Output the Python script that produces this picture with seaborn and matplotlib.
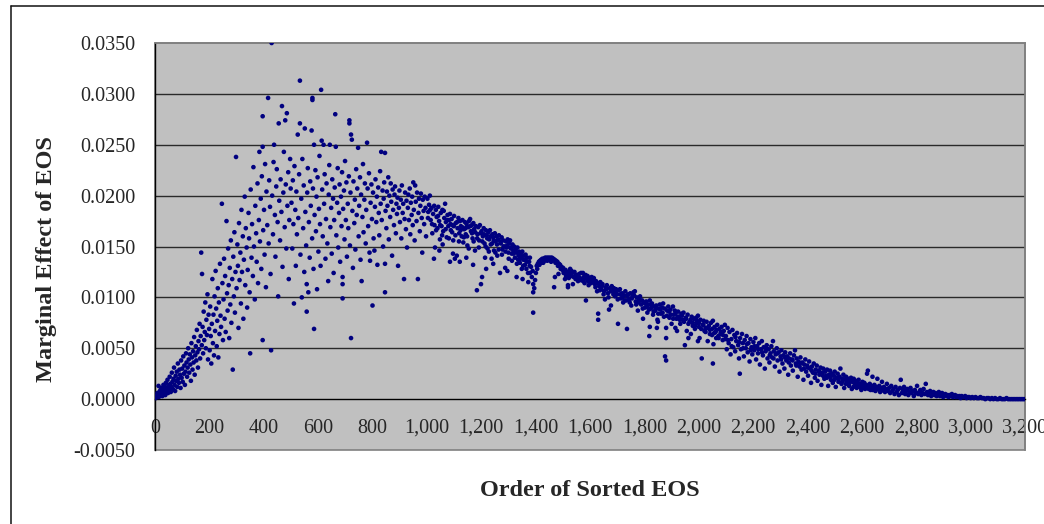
import numpy as np
import pandas as pd
import matplotlib
matplotlib.use("Agg")
import matplotlib.pyplot as plt
import matplotlib.ticker as mticker
from matplotlib.patches import Rectangle
from matplotlib.lines import Line2D
import seaborn as sns

# (rank in sorted EOS order, marginal effect of EOS)
rise_start = [
    (2, .0001), (5, .0003), (7, .0002), (9, .0006), (11, .0004), (13, .0013), (14, .0002), (16, .0007),
    (18, .0005), (20, .0009), (22, .0004), (24, .0011), (26, .0007), (27, .0003), (29, .0010), (31, .0014),
    (33, .0006), (35, .0009), (37, .0012), (38, .0004), (40, .0016), (42, .0008), (44, .0011), (46, .0019),
    (48, .0006), (50, .0013), (52, .0009), (54, .0022), (56, .0015), (58, .0007), (60, .0012), (62, .0026),
    (64, .0017), (66, .0010), (68, .0020), (70, .0031), (72, .0014), (74, .0008), (76, .0023), (78, .0018),
    (80, .0027), (82, .0012), (84, .0035), (86, .0020), (88, .0016), (90, .0029), (92, .0024), (94, .0011),
    (96, .0038), (98, .0021), (100, .0030), (102, .0017), (104, .0042), (106, .0025), (108, .0033), (110, .0014),
    (112, .0027), (114, .0045), (116, .0036), (118, .0022), (120, .0031), (122, .0050), (124, .0039), (126, .0026),
    (128, .0044), (130, .0034), (132, .0018), (134, .0055), (136, .0041), (138, .0029), (140, .0047), (142, .0036),
    (144, .0061), (146, .0024), (148, .0043), (150, .0052), (152, .0038), (154, .0068), (156, .0046), (158, .0031),
    (160, .0057), (162, .0049), (164, .0074), (166, .0040), (168, .0062), (170, .0144), (172, .0053), (173, .0123),
    (175, .0071), (177, .0045), (179, .0086), (181, .0058), (183, .0066), (185, .0095), (187, .0050), (189, .0078),
    (191, .0063), (193, .0103), (195, .0039), (197, .0083), (199, .0069),
]

rise_spread = [
    (201, .0048), (203, .0091), (205, .0062), (207, .0035), (209, .0074), (211, .0118), (213, .0055), (215, .0083),
    (217, .0043), (219, .0101), (221, .0067), (223, .0126), (225, .0089), (227, .0052), (229, .0077), (231, .0109),
    (233, .0041), (235, .0095), (237, .0064), (239, .0133), (241, .0082), (243, .0071), (246, .0192), (248, .0114),
    (250, .0058), (252, .0098), (254, .0138), (256, .0079), (258, .0121), (260, .0066), (263, .0175), (265, .0104),
    (267, .0087), (269, .0148), (271, .0112), (273, .0060), (275, .0129), (277, .0093), (279, .0156), (281, .0075),
    (284, .0118), (286, .0029), (288, .0140), (290, .0101), (292, .0164), (294, .0085), (296, .0125), (298, .0238),
    (300, .0109), (303, .0152), (305, .0131), (307, .0070), (309, .0173), (311, .0117), (314, .0144), (316, .0094),
    (318, .0186), (320, .0125), (323, .0160), (325, .0079), (327, .0137), (330, .0199), (332, .0112), (334, .0168),
    (337, .0149), (339, .0090), (341, .0127), (344, .0183), (346, .0158), (348, .0105), (350, .0045), (352, .0206),
    (355, .0139), (357, .0172), (360, .0121), (362, .0228), (364, .0150), (367, .0098), (369, .0190), (372, .0163),
    (374, .0135), (377, .0212), (379, .0114), (382, .0176), (384, .0243), (386, .0155), (389, .0197), (391, .0128),
    (393, .0219), (396, .0278), (396, .0248), (396, .0058), (398, .0166), (401, .0186), (403, .0142), (405, .0231),
    (408, .0110), (410, .0204), (413, .0171), (416, .0296), (418, .0153), (420, .0215), (423, .0189), (425, .0123),
    (427, .0048), (429, .0350), (431, .0200), (434, .0162), (436, .0233), (438, .0250), (441, .0181), (443, .0140),
    (446, .0209), (448, .0226), (451, .0174), (453, .0101), (455, .0271), (457, .0195), (460, .0156), (462, .0216),
    (465, .0184), (467, .0288), (469, .0130), (472, .0203), (474, .0243), (477, .0169), (479, .0274), (481, .0211),
    (483, .0148), (485, .0281), (487, .0190), (490, .0223), (492, .0118), (494, .0176), (497, .0236), (499, .0207),
]

peak_spread = [
    (502, .0193), (505, .0148), (507, .0215), (509, .0172), (511, .0094), (513, .0229), (516, .0186), (518, .0131),
    (520, .0204), (522, .0162), (525, .0260), (527, .0178), (530, .0221), (533, .0313), (533, .0271), (535, .0142),
    (538, .0197), (540, .0100), (542, .0236), (545, .0168), (547, .0210), (549, .0125), (551, .0266), (553, .0184),
    (556, .0151), (558, .0086), (558, .0113), (560, .0203), (562, .0227), (564, .0105), (566, .0174), (569, .0139),
    (571, .0214), (573, .0190), (576, .0264), (578, .0158), (579, .0294), (579, .0296), (581, .0207), (583, .0128),
    (585, .0250), (585, .0069), (587, .0181), (590, .0225), (592, .0165), (594, .0199), (596, .0108), (598, .0218),
    (601, .0145), (603, .0187), (605, .0239), (607, .0172), (609, .0131), (611, .0304), (613, .0254), (615, .0206),
    (617, .0160), (620, .0250), (622, .0192), (624, .0221), (627, .0138), (629, .0177), (631, .0212), (634, .0153),
    (637, .0116), (639, .0201), (641, .0230), (643, .0250), (645, .0169), (648, .0188), (650, .0143), (652, .0216),
    (655, .0197), (657, .0124), (659, .0176), (661, .0208), (663, .0280), (665, .0248), (667, .0161), (670, .0193),
    (672, .0227), (674, .0149), (677, .0183), (679, .0211), (681, .0135), (684, .0199), (686, .0170), (688, .0223),
    (690, .0120), (690, .0113), (690, .0099), (692, .0187), (695, .0205), (697, .0157), (699, .0234), (702, .0176),
    (704, .0213), (706, .0140), (709, .0192), (711, .0168), (713, .0219), (715, .0274), (715, .0271), (717, .0151),
    (719, .0203), (721, .0260), (721, .0060), (724, .0255), (726, .0185), (728, .0129), (730, .0214), (733, .0173),
    (735, .0196), (737, .0147), (740, .0226), (742, .0181), (744, .0207), (747, .0247), (749, .0160), (751, .0190),
    (754, .0218), (756, .0137), (758, .0201), (760, .0116), (763, .0179), (765, .0231), (767, .0164), (770, .0196),
    (772, .0212), (775, .0153), (777, .0186), (780, .0252), (782, .0207), (784, .0170), (787, .0222), (789, .0144),
    (791, .0136), (793, .0193), (796, .0211), (798, .0177), (800, .0092), (802, .0203), (804, .0158), (807, .0146),
    (809, .0189), (811, .0216), (814, .0174), (816, .0199), (818, .0132), (821, .0208), (823, .0183), (825, .0161),
    (828, .0224), (830, .0192), (832, .0243), (834, .0176), (837, .0205), (839, .0150), (841, .0197), (843, .0213),
    (846, .0242), (846, .0105), (846, .0133), (848, .0185), (851, .0168), (853, .0204), (855, .0190), (858, .0218),
    (860, .0157), (862, .0200), (865, .0179), (867, .0212), (869, .0194), (872, .0141), (874, .0206), (876, .0186),
    (879, .0171), (881, .0201), (883, .0209), (886, .0163), (888, .0192), (890, .0182), (892, .0198), (894, .0131),
    (897, .0188), (899, .0205), (901, .0174), (904, .0196), (906, .0158), (908, .0210), (911, .0183), (913, .0192),
    (916, .0118), (918, .0177), (920, .0203), (923, .0167), (925, .0195), (927, .0149), (930, .0188), (932, .0201),
    (934, .0176), (937, .0207), (939, .0162), (941, .0193), (944, .0181), (946, .0199), (948, .0171), (950, .0213),
    (952, .0186), (955, .0156), (957, .0210), (959, .0194), (962, .0175), (964, .0203), (967, .0118), (969, .0183),
    (971, .0197), (974, .0165), (976, .0190), (978, .0202), (981, .0178), (983, .0144), (985, .0196), (988, .0185),
    (990, .0172), (992, .0199), (995, .0188), (997, .0160),
]

decline_upper = [
    (1002, .0197), (1005, .0184), (1008, .0191), (1011, .0200), (1014, .0176), (1017, .0188), (1020, .0163),
    (1023, .0182), (1026, .0138), (1028, .0171), (1030, .0149), (1033, .0186), (1036, .0179), (1039, .0168),
    (1042, .0189), (1045, .0175), (1048, .0157), (1051, .0183), (1054, .0170), (1057, .0186), (1060, .0165),
    (1064, .0178), (1067, .0192), (1070, .0174), (1073, .0159), (1076, .0181), (1079, .0170), (1082, .0176),
    (1085, .0182), (1085, .0135), (1088, .0166), (1091, .0177), (1094, .0171), (1097, .0156), (1100, .0180),
    (1103, .0138), (1106, .0173), (1110, .0141), (1113, .0168), (1116, .0178), (1119, .0163), (1122, .0175),
    (1125, .0170), (1128, .0160), (1131, .0176), (1134, .0154), (1137, .0167), (1140, .0174), (1143, .0162),
    (1146, .0172), (1149, .0151), (1152, .0169), (1155, .0175), (1159, .0177), (1162, .0165), (1165, .0171),
    (1168, .0158), (1171, .0173), (1174, .0167), (1177, .0146), (1180, .0170), (1184, .0107), (1186, .0162),
    (1189, .0169), (1192, .0156), (1195, .0171), (1199, .0113), (1201, .0165), (1203, .0120), (1206, .0160),
    (1209, .0168), (1212, .0153), (1214, .0139), (1217, .0166), (1220, .0161), (1223, .0148), (1226, .0164),
    (1229, .0157), (1232, .0166), (1235, .0152), (1238, .0138), (1241, .0162), (1244, .0159), (1247, .0146),
    (1250, .0163), (1253, .0155), (1256, .0160), (1259, .0141), (1262, .0157), (1265, .0161), (1269, .0124),
    (1272, .0153), (1275, .0159), (1278, .0147), (1281, .0156), (1284, .0150), (1288, .0129), (1291, .0155),
    (1294, .0149), (1297, .0157), (1300, .0144), (1303, .0153), (1306, .0156), (1309, .0148), (1312, .0143),
    (1315, .0152), (1318, .0146), (1321, .0150), (1324, .0139), (1327, .0148), (1330, .0144), (1333, .0149),
    (1336, .0137), (1339, .0145), (1342, .0134), (1345, .0143), (1348, .0140), (1351, .0145), (1354, .0131),
    (1357, .0141), (1360, .0137), (1363, .0142), (1366, .0128), (1369, .0139), (1373, .0115), (1376, .0135),
    (1379, .0139), (1379, .0124), (1383, .0130), (1386, .0120), (1389, .0126), (1391, .0113), (1391, .0105),
    (1391, .0085), (1395, .0109), (1398, .0117), (1401, .0124), (1404, .0131), (1408, .0133), (1412, .0135),
    (1416, .0136), (1420, .0137), (1425, .0138), (1428, .0134), (1430, .0138), (1435, .0139), (1440, .0139),
    (1443, .0136), (1445, .0139), (1450, .0139), (1455, .0139), (1457, .0135), (1460, .0139), (1465, .0138),
    (1468, .0110), (1470, .0137), (1471, .0120), (1475, .0136), (1480, .0135), (1484, .0123), (1486, .0133),
    (1490, .0132), (1495, .0130), (1499, .0127), (1501, .0129), (1505, .0126), (1508, .0118), (1510, .0127),
    (1514, .0124), (1519, .0112), (1519, .0110), (1520, .0125), (1524, .0122), (1527, .0128), (1530, .0121),
    (1534, .0124), (1537, .0113), (1540, .0120), (1543, .0125), (1547, .0118), (1550, .0122), (1552, .0121),
    (1556, .0116), (1560, .0123), (1563, .0119), (1567, .0124), (1570, .0117), (1574, .0124), (1577, .0120),
    (1580, .0114), (1584, .0122), (1585, .0097), (1588, .0118), (1591, .0121), (1595, .0112), (1598, .0119),
]

decline_mid = [
    (1602, .0117), (1606, .0120), (1610, .0118), (1614, .0119), (1618, .0113), (1622, .0116), (1626, .0106),
    (1630, .0084), (1630, .0078), (1634, .0111), (1638, .0115), (1642, .0108), (1646, .0113), (1650, .0103),
    (1655, .0098), (1658, .0110), (1662, .0112), (1666, .0104), (1670, .0088), (1673, .0109), (1677, .0092),
    (1680, .0111), (1684, .0106), (1688, .0109), (1692, .0101), (1696, .0108), (1700, .0103), (1703, .0074),
    (1706, .0107), (1710, .0108), (1714, .0099), (1718, .0104), (1722, .0095), (1726, .0102), (1730, .0106),
    (1733, .0097), (1736, .0069), (1740, .0103), (1744, .0098), (1748, .0104), (1752, .0092), (1756, .0101),
    (1760, .0105), (1765, .0106), (1768, .0096), (1772, .0100), (1776, .0087), (1780, .0098), (1784, .0101),
    (1788, .0093), (1792, .0097), (1795, .0079), (1799, .0095), (1803, .0090), (1807, .0096), (1811, .0085),
    (1815, .0093), (1818, .0062), (1820, .0097), (1820, .0071), (1824, .0089), (1828, .0094), (1832, .0083),
    (1836, .0091), (1840, .0087), (1844, .0092), (1846, .0070), (1848, .0078), (1850, .0076), (1853, .0089),
    (1857, .0093), (1861, .0084), (1865, .0090), (1869, .0094), (1872, .0081), (1876, .0042), (1880, .0038),
    (1880, .0070), (1880, .0060), (1884, .0087), (1888, .0091), (1892, .0080), (1896, .0088), (1900, .0074),
    (1905, .0091), (1908, .0083), (1912, .0087), (1914, .0070), (1918, .0079), (1920, .0067), (1924, .0086),
    (1928, .0081), (1932, .0074), (1936, .0084), (1940, .0078), (1944, .0085), (1949, .0053), (1952, .0080),
    (1956, .0067), (1959, .0083), (1962, .0060), (1966, .0076), (1971, .0064), (1974, .0081), (1978, .0072),
    (1982, .0079), (1986, .0069), (1990, .0080), (1994, .0075), (1997, .0082), (1997, .0057), (2000, .0071),
    (2003, .0060), (2006, .0078), (2011, .0040), (2014, .0073), (2018, .0077), (2021, .0067), (2025, .0070),
    (2029, .0076), (2033, .0057), (2037, .0072), (2041, .0068), (2045, .0075), (2049, .0063), (2052, .0077),
    (2052, .0035), (2054, .0054), (2058, .0071), (2062, .0066), (2064, .0060), (2068, .0073), (2072, .0062),
    (2076, .0069), (2080, .0064), (2084, .0071), (2088, .0058), (2092, .0067), (2096, .0073),
]

# second layer of the dense declining band
decline_fill = [
    (1004, .0178), (1012, .0186), (1019, .0172), (1027, .0190), (1034, .0166), (1041, .0180), (1046, .0146),
    (1049, .0171), (1056, .0161), (1058, .0152), (1062, .0185), (1069, .0167), (1075, .0176), (1081, .0158),
    (1087, .0172), (1093, .0164), (1096, .0143), (1099, .0170), (1105, .0161), (1111, .0174), (1118, .0155),
    (1121, .0135), (1124, .0166), (1130, .0169), (1136, .0159), (1142, .0168), (1145, .0139), (1148, .0160),
    (1154, .0148), (1160, .0170), (1166, .0163), (1170, .0132), (1172, .0155), (1178, .0164), (1185, .0158),
    (1191, .0149), (1197, .0163), (1204, .0155), (1210, .0162), (1216, .0150), (1218, .0128), (1222, .0158),
    (1228, .0145), (1234, .0160), (1240, .0153), (1244, .0133), (1246, .0156), (1252, .0144), (1258, .0152),
    (1264, .0147), (1270, .0155), (1276, .0142), (1282, .0150), (1289, .0145), (1295, .0151), (1296, .0126),
    (1301, .0138), (1307, .0149), (1313, .0136), (1319, .0143), (1325, .0146), (1330, .0120), (1331, .0133),
    (1337, .0141), (1343, .0138), (1349, .0128), (1352, .0118), (1355, .0137), (1361, .0132), (1367, .0135),
    (1372, .0124), (1378, .0131),
    (1406, .0128), (1414, .0132), (1422, .0134), (1433, .0136), (1448, .0137), (1462, .0136), (1473, .0134),
    (1482, .0131), (1492, .0128), (1503, .0124), (1512, .0121), (1522, .0119), (1532, .0126), (1545, .0121),
    (1555, .0119), (1565, .0117), (1575, .0116), (1583, .0119), (1593, .0116),
    (1604, .0114), (1612, .0116), (1620, .0110), (1628, .0114), (1636, .0107), (1644, .0111), (1652, .0106),
    (1660, .0108), (1668, .0100), (1676, .0106), (1686, .0103), (1694, .0105), (1702, .0098), (1712, .0103),
    (1720, .0100), (1728, .0097), (1738, .0101), (1746, .0095), (1754, .0099), (1762, .0102), (1770, .0093),
    (1778, .0095), (1786, .0097), (1794, .0089), (1802, .0094), (1810, .0091), (1817, .0088), (1826, .0092),
    (1834, .0086), (1842, .0089), (1851, .0084), (1859, .0088), (1867, .0085), (1875, .0089), (1883, .0082),
    (1891, .0086), (1898, .0083), (1906, .0079), (1914, .0084), (1922, .0081), (1930, .0078), (1938, .0082),
    (1946, .0076), (1954, .0079), (1962, .0074), (1970, .0078), (1978, .0075), (1986, .0072), (1993, .0077),
    (2001, .0075), (2009, .0069), (2017, .0073), (2025, .0066), (2033, .0070), (2041, .0064), (2049, .0069),
    (2057, .0065), (2065, .0068), (2073, .0060), (2081, .0066), (2089, .0063), (2097, .0059),
    (2108, .0058), (2121, .0052), (2135, .0061), (2149, .0056), (2163, .0050), (2177, .0054), (2191, .0048),
    (2205, .0052), (2219, .0049), (2233, .0046), (2247, .0050), (2261, .0043), (2275, .0040), (2289, .0045),
    (2303, .0039), (2317, .0041), (2331, .0036), (2345, .0038), (2359, .0033), (2373, .0035), (2387, .0030),
    (2401, .0031), (2415, .0028), (2429, .0025), (2443, .0027), (2457, .0023), (2471, .0021), (2485, .0022),
    (2499, .0019), (2513, .0020), (2527, .0017), (2541, .0015), (2555, .0016), (2569, .0012), (2583, .0013),
    (2597, .0011), (2611, .0012), (2625, .0010), (2640, .0009), (2655, .0010), (2670, .0008), (2685, .0009),
]

tail = [
    (2100, .0062), (2103, .0049), (2106, .0070), (2110, .0055), (2113, .0066), (2117, .0044), (2120, .0059),
    (2124, .0068), (2127, .0051), (2131, .0063), (2134, .0047), (2138, .0057), (2141, .0065), (2145, .0053),
    (2148, .0040), (2151, .0025), (2152, .0060), (2155, .0049), (2159, .0064), (2162, .0055), (2166, .0042),
    (2169, .0058), (2173, .0050), (2176, .0062), (2180, .0046), (2183, .0055), (2187, .0037), (2190, .0059),
    (2194, .0051), (2197, .0044), (2201, .0056), (2204, .0048), (2208, .0060), (2211, .0039), (2215, .0052),
    (2218, .0045), (2222, .0055), (2225, .0034), (2229, .0049), (2232, .0057), (2236, .0043), (2239, .0051),
    (2243, .0030), (2246, .0047), (2250, .0053), (2253, .0040), (2257, .0049), (2260, .0036), (2264, .0045),
    (2267, .0052), (2270, .0041), (2273, .0057), (2276, .0047), (2280, .0032), (2283, .0044), (2287, .0050),
    (2290, .0038), (2294, .0046), (2297, .0027), (2301, .0042), (2304, .0048), (2308, .0035), (2311, .0043),
    (2315, .0030), (2318, .0046), (2322, .0038), (2325, .0042), (2329, .0024), (2332, .0040), (2336, .0045),
    (2339, .0033), (2343, .0039), (2346, .0028), (2350, .0043), (2354, .0048), (2357, .0035), (2360, .0040),
    (2364, .0022), (2367, .0037), (2371, .0032), (2374, .0041), (2378, .0029), (2381, .0036), (2385, .0019),
    (2388, .0034), (2392, .0039), (2395, .0027), (2399, .0033), (2402, .0023), (2406, .0037), (2409, .0030),
    (2413, .0016), (2416, .0032), (2420, .0026), (2423, .0035), (2427, .0021), (2430, .0029), (2434, .0033),
    (2437, .0018), (2441, .0028), (2444, .0024), (2448, .0031), (2451, .0014), (2455, .0026), (2458, .0030),
    (2462, .0020), (2465, .0027), (2469, .0023), (2472, .0029), (2476, .0013), (2479, .0024), (2483, .0028),
    (2486, .0019), (2490, .0025), (2493, .0016), (2497, .0023), (2500, .0027), (2504, .0012), (2507, .0021),
    (2511, .0025), (2514, .0017), (2518, .0022), (2521, .0030), (2525, .0015), (2528, .0020), (2532, .0024),
    (2535, .0011), (2539, .0019), (2542, .0022), (2546, .0016), (2549, .0020), (2553, .0013), (2556, .0018),
    (2560, .0021), (2563, .0010), (2567, .0017), (2570, .0020), (2574, .0014), (2577, .0018), (2581, .0011),
    (2584, .0016), (2588, .0019), (2591, .0012), (2595, .0015), (2598, .0009), (2602, .0017), (2605, .0013),
    (2609, .0016), (2612, .0010), (2616, .0014), (2619, .0025), (2622, .0028), (2625, .0012), (2629, .0015),
    (2632, .0009), (2636, .0013), (2639, .0022), (2643, .0011), (2646, .0014), (2650, .0008), (2653, .0012),
    (2657, .0020), (2660, .0010), (2664, .0013), (2667, .0007), (2671, .0011), (2674, .0017), (2678, .0009),
    (2681, .0012), (2685, .0007), (2688, .0010), (2692, .0015), (2696, .0008),
]

tail_end = [
    (2700, .0011), (2704, .0006), (2708, .0013), (2712, .0008), (2716, .0010), (2720, .0005), (2724, .0012),
    (2728, .0007), (2732, .0009), (2736, .0004), (2740, .0011), (2743, .0019), (2747, .0006), (2751, .0009),
    (2755, .0012), (2759, .0005), (2763, .0008), (2767, .0010), (2771, .0004), (2775, .0007), (2779, .0011),
    (2783, .0006), (2787, .0008), (2791, .0003), (2795, .0009), (2799, .0006), (2803, .0013), (2807, .0005),
    (2811, .0007), (2815, .0009), (2819, .0004), (2823, .0006), (2827, .0010), (2831, .0005), (2835, .0015),
    (2839, .0007), (2843, .0004), (2847, .0006), (2851, .0008), (2855, .0003), (2859, .0005), (2863, .0007),
    (2867, .0004), (2871, .0006), (2875, .0003), (2879, .0005), (2883, .0007), (2887, .0003), (2891, .0004),
    (2895, .0006), (2899, .0002), (2903, .0004), (2907, .0005), (2911, .0003), (2915, .0004), (2919, .0002),
    (2923, .0004), (2927, .0003), (2931, .0005), (2935, .0002), (2939, .0003), (2943, .0004), (2947, .0002),
    (2951, .0003), (2955, .0002), (2959, .0003), (2963, .0001), (2967, .0003), (2971, .0002), (2975, .0002),
    (2980, .0003), (2985, .0001), (2990, .0002), (2995, .0002), (3000, .0001), (3006, .0002), (3012, .0001),
    (3018, .0002), (3024, .0001), (3030, .0001), (3036, .0002), (3042, .0001), (3048, .0001), (3054, .0000),
    (3060, .0001), (3066, .0001), (3072, .0000), (3078, .0001), (3084, .0000), (3090, .0001), (3096, .0000),
    (3102, .0000), (3108, .0001), (3114, .0000), (3120, .0000), (3126, .0000), (3132, .0001), (3138, .0000),
    (3144, .0000), (3150, .0000), (3156, .0000), (3162, .0000), (3168, .0000), (3174, .0000), (3180, .0000),
    (3186, .0000), (3192, .0000), (3198, .0000),
]

x_ticks = [0, 200, 400, 600, 800, 1000, 1200, 1400, 1600, 1800, 2000, 2200, 2400, 2600, 2800, 3000, 3200]
y_ticks = [-0.005, 0.0, 0.005, 0.010, 0.015, 0.020, 0.025, 0.030, 0.035]
grid_levels = [0.005, 0.010, 0.015, 0.020, 0.025, 0.030]

sections = [rise_start, rise_spread, peak_spread, decline_upper, decline_mid, decline_fill, tail, tail_end]
df = pd.DataFrame([p for s in sections for p in s], columns=["rank", "effect"])

sns.set_style("white")
plt.rcParams["font.family"] = ["Liberation Serif", "DejaVu Serif"]
plt.rcParams["axes.unicode_minus"] = False

W, H = 1044, 524
fig = plt.figure(figsize=(W / 100, H / 100), dpi=100)
fig.patch.set_facecolor("white")

# outer chart frame (continues past the right and bottom edges)
fig.add_artist(Line2D([11 / W, 1.02], [1 - 5.5 / H, 1 - 5.5 / H], transform=fig.transFigure,
                      color="#111111", lw=1.1))
fig.add_artist(Line2D([11 / W, 11 / W], [1 - 5.5 / H, -0.02], transform=fig.transFigure,
                      color="#111111", lw=1.1))

ax = fig.add_axes([155 / W, 1 - 450 / H, 870 / W, 407 / H])
ax.set_facecolor("#C0C0C0")

ax.hlines(grid_levels, 0, 3200, colors="#2a2a2a", lw=1.0, zorder=1)

sns.scatterplot(data=df, x="rank", y="effect", ax=ax, s=11, color="#000080",
                edgecolor="none", linewidth=0, zorder=3, legend=False)

ax.set_xlim(0, 3200)
ax.set_ylim(-0.005, 0.035)
ax.set_xticks(x_ticks)
ax.set_yticks(y_ticks)
ax.xaxis.set_major_formatter(mticker.FuncFormatter(lambda v, p: f"{v:,.0f}"))
ax.yaxis.set_major_formatter(mticker.FuncFormatter(lambda v, p: f"{v:.4f}"))

for side in ("top", "right"):
    ax.spines[side].set_color("#808080")
    ax.spines[side].set_linewidth(1.2)
ax.spines["left"].set_color("black")
ax.spines["left"].set_linewidth(1.0)
ax.spines["bottom"].set_position(("data", 0))
ax.spines["bottom"].set_color("black")
ax.spines["bottom"].set_linewidth(1.0)
ax.add_patch(Rectangle((0, 0), 1, 1, transform=ax.transAxes, fill=False,
                       edgecolor="#808080", lw=1.2, clip_on=False, zorder=0.5))

ax.tick_params(axis="x", direction="out", length=5, width=1, color="black",
               labelsize=14.5, pad=9)
ax.tick_params(axis="y", direction="out", length=6, width=1, color="black",
               labelsize=14.5, pad=8)
ax.set_xlabel("")
ax.set_ylabel("")

fig.text(47 / W, 1 - 259 / H, "Marginal Effect of EOS", rotation=90, ha="center", va="center",
         fontsize=17.5, fontweight="bold")
fig.text(590 / W, 1 - 491 / H, "Order of Sorted EOS", ha="center", va="center",
         fontsize=17.5, fontweight="bold")

fig.savefig("out.png", dpi=100)
